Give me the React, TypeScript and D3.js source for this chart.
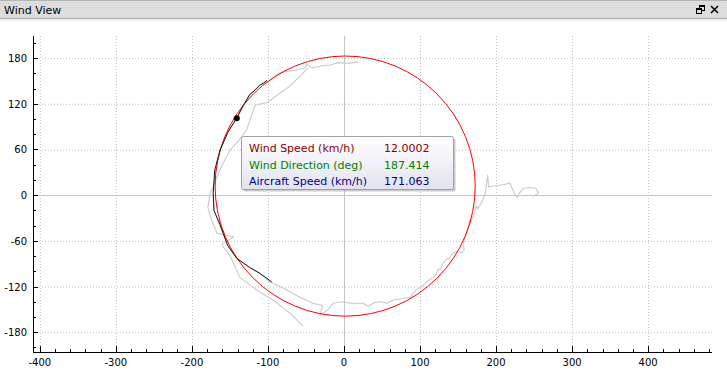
import * as d3 from "d3";

const xMajorTicks = [-400, -300, -200, -100, 0, 100, 200, 300, 400];
const yMajorTicks = [-180, -120, -60, 0, 60, 120, 180];
const minorStep = 20;

const windSpeed = 12.0002;
const windDirection = 187.414;
const aircraftSpeed = 171.063;

// older ground track (gray), outer pass
const outerTrack: [number, number][] = [
  [243, 0], [250, -1], [256, 3], [252, 9], [244, 10], [236, 9], [231, 3],
  [228, -3], [224, 2], [222, 7], [218, 16], [211, 14], [205, 13], [197, 12],
  [190, 11], [189, 26], [187, 12], [186, 3], [183, -5], [179, -13],
  [176, -18], [174, -14], [172, -24], [169, -30], [166, -37], [165, -33],
  [162, -50], [159, -56], [157, -63], [158, -72], [155, -76], [149, -74],
  [143, -76], [139, -83], [135, -84], [130, -90], [127, -98], [124, -97],
  [120, -106], [117, -108], [111, -112], [108, -114], [104, -119],
  [100, -121], [93, -126], [90, -131], [87, -134], [75, -136], [64, -138],
  [57, -142], [48, -140], [40, -141], [32, -146], [25, -142], [8, -142],
  [-2, -140], [-14, -142], [-22, -151], [-32, -158], [-28, -145], [-41, -142],
  [-58, -134], [-80, -122], [-97, -114], [-111, -103], [-124, -95],
  [-141, -83], [-153, -66], [-163, -40], [-171, -20], [-172, 3], [-170, 24],
  [-163, 59], [-153, 82], [-141, 101], [-124, 132], [-110, 145], [-100, 149],
  [-93, 154], [-87, 160], [-78, 162], [-64, 164], [-51, 167], [-49, 172],
  [-42, 167], [-29, 170], [-18, 171], [-8, 174], [6, 173], [18, 175],
];

// older ground track (gray), inner pass
const innerTrack: [number, number][] = [
  [-47, 167], [-60, 154], [-74, 141], [-87, 132], [-100, 122], [-117, 118],
  [-128, 86], [-139, 71], [-150, 59], [-159, 42], [-167, 24], [-172, 11],
  [-176, 3], [-179, -16], [-174, -33], [-167, -50], [-145, -55],
  [-160, -64], [-159, -68], [-150, -79], [-137, -108], [-114, -125],
  [-93, -138], [-71, -155], [-54, -172],
];

// latest part of the track (black)
const recentTrack: [number, number][] = [
  [-101, 151], [-106, 147], [-110, 145], [-117, 138], [-124, 132],
  [-133, 117], [-141, 101], [-147, 92], [-153, 82], [-163, 59],
  [-170, 33], [-172, 3], [-171, -20], [-163, -39], [-153, -66],
  [-141, -83], [-124, -95], [-110, -103], [-95, -114],
];

const currentPoint: [number, number] = [-141, 101];

const tooltipRows = [
  { label: "Wind Speed (km/h)", value: windSpeed.toFixed(4), color: "#8b0000" },
  { label: "Wind Direction (deg)", value: windDirection.toFixed(3), color: "#008000" },
  { label: "Aircraft Speed (km/h)", value: aircraftSpeed.toFixed(3), color: "#00008b" },
];

export default function App() {
  const width = 727;
  const height = 374;
  const left = 33;
  const right = 712;
  const top = 36;
  const bottom = 352;

  const x = d3.scaleLinear().domain([-409, 484]).range([left, right]);
  const y = d3.scaleLinear().domain([-206, 209]).range([bottom, top]);

  const line = d3
    .line<[number, number]>()
    .x((d) => x(d[0]))
    .y((d) => y(d[1]));

  // wind blows the airspeed circle off the origin
  const toward = ((windDirection + 180) * Math.PI) / 180;
  const cx = windSpeed * Math.sin(toward);
  const cy = windSpeed * Math.cos(toward);
  const rPx = x(aircraftSpeed) - x(0);

  const xMinor = d3.range(-400, 481, minorStep);
  const yMinor = d3.range(-200, 201, minorStep);

  const font = "'DejaVu Sans', sans-serif";

  return (
    <svg
      width={width}
      height={height}
      style={{ position: "absolute", left: 0, top: 0, background: "#fff" }}
    >
      <defs>
        <linearGradient id="tipbg" x1="0" y1="0" x2="0" y2="1">
          <stop offset="0%" stopColor="#ffffff" />
          <stop offset="100%" stopColor="#e3e3ef" />
        </linearGradient>
      </defs>

      {/* title bar */}
      <rect x={0} y={0} width={width} height={19} fill="#dcdcdc" />
      <line x1={0} x2={width} y1={0.5} y2={0.5} stroke="#b4b4b4" />
      <line x1={0} x2={width} y1={18.5} y2={18.5} stroke="#a8a8a8" />
      <rect x={0} y={19} width={width} height={2} fill="#f0f0f0" />
      <text x={4} y={14} fontFamily={font} fontSize={11} fill="#000">
        Wind View
      </text>
      <g stroke="#000" fill="none" strokeWidth={1}>
        <rect x={699.5} y={5.5} width={5} height={5} />
        <line x1={699.5} x2={704.5} y1={6.5} y2={6.5} />
        <rect x={696.5} y={8.5} width={5} height={5} fill="#dcdcdc" />
        <line x1={696.5} x2={701.5} y1={9.5} y2={9.5} />
        <path d="M711,6 L718,13 M718,6 L711,13" strokeWidth={1.6} />
      </g>

      {/* grid */}
      <g stroke="#c0c0c0" strokeDasharray="1,2">
        {xMajorTicks.filter((t) => t !== 0).map((t) => (
          <line key={"gx" + t} x1={x(t) + 0.5} x2={x(t) + 0.5} y1={top} y2={bottom} />
        ))}
        {yMajorTicks.filter((t) => t !== 0).map((t) => (
          <line key={"gy" + t} x1={left} x2={right} y1={y(t) + 0.5} y2={y(t) + 0.5} />
        ))}
      </g>
      <g stroke="#c4c4c4">
        <line x1={Math.round(x(0)) + 0.5} x2={Math.round(x(0)) + 0.5} y1={top} y2={bottom} />
        <line x1={left} x2={right} y1={Math.round(y(0)) + 0.5} y2={Math.round(y(0)) + 0.5} />
      </g>

      {/* tracks */}
      <g fill="none" strokeLinejoin="round">
        <path d={line(outerTrack) ?? ""} stroke="#cacaca" strokeWidth={1.1} />
        <path d={line(innerTrack) ?? ""} stroke="#cacaca" strokeWidth={1.1} />
        <circle cx={x(cx)} cy={y(cy)} r={rPx} stroke="#ff0000" strokeWidth={1} />
        <path d={line(recentTrack) ?? ""} stroke="#1a1a1a" strokeWidth={1} />
        <circle cx={x(currentPoint[0])} cy={y(currentPoint[1])} r={3} fill="#000" />
      </g>

      {/* axes */}
      <g stroke="#000" strokeWidth={1}>
        <line x1={left + 0.5} x2={left + 0.5} y1={top} y2={bottom + 1} />
        <line x1={left} x2={right} y1={bottom + 0.5} y2={bottom + 0.5} />
        {xMinor.map((t) => {
          const major = xMajorTicks.includes(t);
          return (
            <line
              key={"tx" + t}
              x1={Math.round(x(t)) + 0.5}
              x2={Math.round(x(t)) + 0.5}
              y1={bottom}
              y2={bottom - (major ? 6 : 3)}
            />
          );
        })}
        {yMinor.map((t) => {
          const major = yMajorTicks.includes(t);
          return (
            <line
              key={"ty" + t}
              x1={left}
              x2={left + (major ? 5 : 3)}
              y1={Math.round(y(t)) + 0.5}
              y2={Math.round(y(t)) + 0.5}
            />
          );
        })}
      </g>
      <g fontFamily={font} fontSize={10} fill="#000">
        {xMajorTicks.map((t) => (
          <text key={"lx" + t} x={x(t)} y={bottom + 14} textAnchor="middle">
            {t}
          </text>
        ))}
        {yMajorTicks.map((t) => (
          <text key={"ly" + t} x={left - 6} y={y(t) + 4} textAnchor="end">
            {t}
          </text>
        ))}
      </g>

      {/* tooltip */}
      <g>
        <rect x={243.5} y={138.5} width={212} height={53} rx={2} fill="#9a9a9a" opacity={0.5} />
        <rect x={241.5} y={136.5} width={212} height={53} rx={2} fill="url(#tipbg)" stroke="#a0a0a0" />
        {tooltipRows.map((r, i) => (
          <g key={r.label} fontFamily={font} fontSize={11} fill={r.color}>
            <text x={249} y={152 + i * 16.5}>
              {r.label}
            </text>
            <text x={384} y={152 + i * 16.5}>
              {r.value}
            </text>
          </g>
        ))}
      </g>
    </svg>
  );
}
